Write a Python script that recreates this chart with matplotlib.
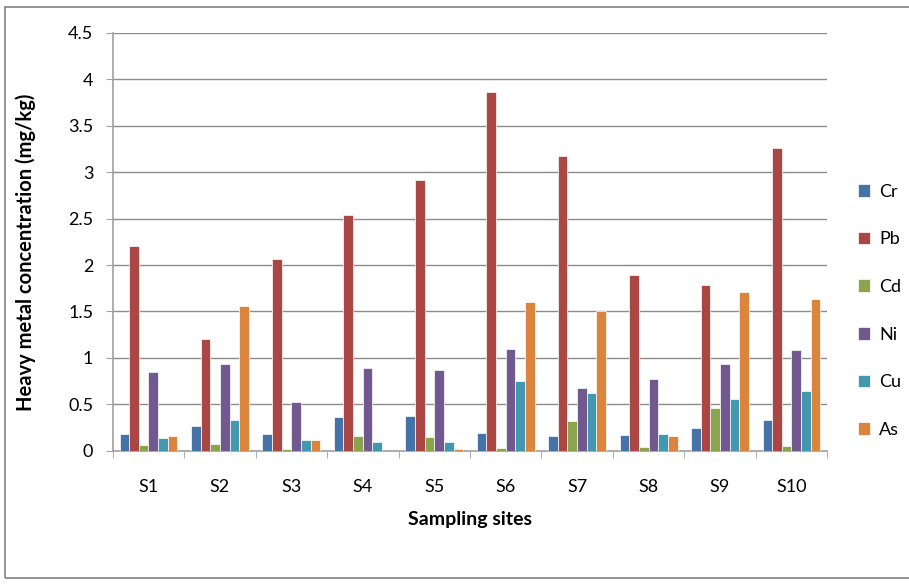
import numpy as np
import matplotlib
matplotlib.use("Agg")
import matplotlib.pyplot as plt
from matplotlib.patches import Rectangle

plt.rcParams['font.family'] = ['Lato', 'DejaVu Sans']

sites = ["S1", "S2", "S3", "S4", "S5", "S6", "S7", "S8", "S9", "S10"]
metals = ["Cr", "Pb", "Cd", "Ni", "Cu", "As"]

cr = [0.18, 0.27, 0.18, 0.36, 0.38, 0.19, 0.16, 0.17, 0.25, 0.33]
pb = [2.20, 1.20, 2.07, 2.54, 2.92, 3.86, 3.17, 1.89, 1.78, 3.26]
cd = [0.06, 0.07, 0.02, 0.16, 0.15, 0.03, 0.32, 0.04, 0.46, 0.05]
ni = [0.85, 0.93, 0.53, 0.89, 0.87, 1.10, 0.68, 0.77, 0.93, 1.08]
cu = [0.14, 0.33, 0.12, 0.09, 0.09, 0.75, 0.62, 0.18, 0.56, 0.64]
as_ = [0.16, 1.56, 0.12, 0.00, 0.02, 1.60, 1.50, 0.16, 1.71, 1.63]

series = [cr, pb, cd, ni, cu, as_]
colors = ["#4572A7", "#AA4643", "#89A54E", "#71588F", "#4198AF", "#DB843D"]

fig = plt.figure(figsize=(9.09, 5.84), dpi=100)
ax = fig.add_axes([0.124, 0.228, 0.786, 0.716])

x = np.arange(len(sites))
w = 0.135
for i, (vals, c) in enumerate(zip(series, colors)):
    ax.bar(x + (i - 2.5) * w, vals, width=w, color=c, edgecolor="white",
           linewidth=0.5, label=metals[i], zorder=3)

ax.set_xlim(-0.5, len(sites) - 0.5)
ax.set_ylim(0, 4.5)
ax.set_yticks(np.arange(0, 4.51, 0.5))
ax.set_yticklabels(["0", "0.5", "1", "1.5", "2", "2.5", "3", "3.5", "4", "4.5"])
ax.set_xticks(x)
ax.set_xticklabels(sites)
ax.set_xticks(np.arange(-0.5, len(sites)), minor=True)
ax.tick_params(axis="x", which="major", length=0, labelsize=13, pad=20)
ax.tick_params(axis="x", which="minor", length=5, color="#A0A0A0", direction="out")
ax.tick_params(axis="y", length=5, color="#A0A0A0", labelsize=13, pad=9)

ax.grid(axis="y", color="#8C8C8C", linewidth=1, zorder=0)
for s in ["top", "right"]:
    ax.spines[s].set_visible(False)
ax.spines["left"].set_color("#A0A0A0")
ax.spines["bottom"].set_color("#A0A0A0")
ax.spines["left"].set_linewidth(1.2)
ax.spines["bottom"].set_linewidth(1.2)

ax.set_xlabel("Sampling sites", fontsize=14, fontweight="bold", labelpad=12)
ax.set_ylabel("Heavy metal concentration (mg/kg)", fontsize=14.5, fontweight="bold")
ax.yaxis.set_label_coords(-0.108, 0.475)

ax.legend(loc="center left", bbox_to_anchor=(1.02, 0.335), frameon=False,
          fontsize=13, labelspacing=1.75, handlelength=0.7, handleheight=0.7,
          handletextpad=0.5)

fig.patches.append(Rectangle((0.006, 0.01), 1.1, 0.978, transform=fig.transFigure,
                             fill=False, edgecolor="#808080", linewidth=1.2))

fig.savefig("out.png", dpi=100)
